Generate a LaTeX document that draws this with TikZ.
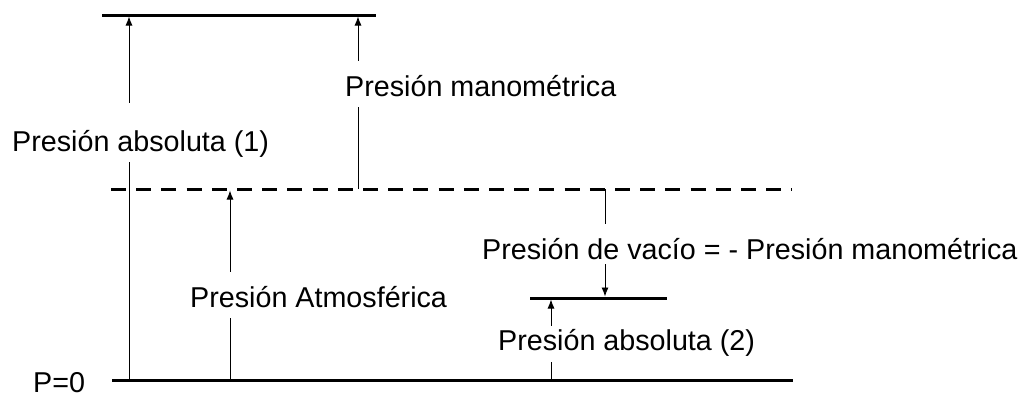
\documentclass[tikz,border=0pt]{standalone}
\usepackage{fontspec}
\setmainfont{Liberation Sans}
\usetikzlibrary{arrows.meta}
\begin{document}
\begin{tikzpicture}[x=1pt,y=-1pt,
  level/.style={line width=3pt},
  dashlevel/.style={line width=3pt,dash pattern=on 15pt off 10.2pt},
  arr/.style={line width=0.9pt,-{Latex[length=9pt,width=7pt]}},
  lbl/.style={anchor=base west,fill=white,inner xsep=0pt,inner ysep=0pt,
    font=\fontsize{28.7}{30}\selectfont,text height=35pt,text depth=11pt}]
\useasboundingbox[fill=white] (0,0) rectangle (1023,397);
% level lines
\coordinate (topL) at (102,15);   \coordinate (topR) at (376,15);
\coordinate (atmL) at (111,189);  \coordinate (atmR) at (792,189);
\coordinate (zeroL) at (112,380); \coordinate (zeroR) at (793,380);
\coordinate (vacL) at (530,298);  \coordinate (vacR) at (667,298);
\draw[level] (topL) -- (topR);
\draw[dashlevel] (atmL) -- (atmR);
\draw[level] (zeroL) -- (zeroR);
\draw[level] (vacL) -- (vacR);
% arrow end points
\coordinate (a1s) at (129,381);  \coordinate (a1e) at (129,16.5);
\coordinate (a2s) at (358,189);  \coordinate (a2e) at (358,16.5);
\coordinate (a3s) at (230,381);  \coordinate (a3e) at (230,190.5);
\coordinate (a4s) at (605,189);  \coordinate (a4e) at (605,296.5);
\coordinate (a5s) at (551,381);  \coordinate (a5e) at (551,299.5);
\draw[arr] (a1s) -- (a1e);
\draw[arr] (a2s) -- (a2e);
\draw[arr] (a3s) -- (a3e);
\draw[arr] (a4s) -- (a4e);
\draw[arr] (a5s) -- (a5e);
% labels
\node[lbl] (manom) at (345,96) {Presión manométrica};
\node[lbl,text height=48pt] (abs1) at (12,151) {Presión absoluta (1)};
\node[lbl,text depth=5pt] (vacio) at (482,259) {Presión de vacío = - Presión manométrica};
\node[lbl] (atmos) at (190,307) {Presión Atmosférica};
\node[lbl,text height=24pt,text depth=12pt] (abs2) at (498,350) {Presión absoluta (2)};
\node[anchor=base west,inner sep=0pt,font=\fontsize{28.7}{30}\selectfont] (p0) at (33,392.5) {P=0};
\end{tikzpicture}
\end{document}
